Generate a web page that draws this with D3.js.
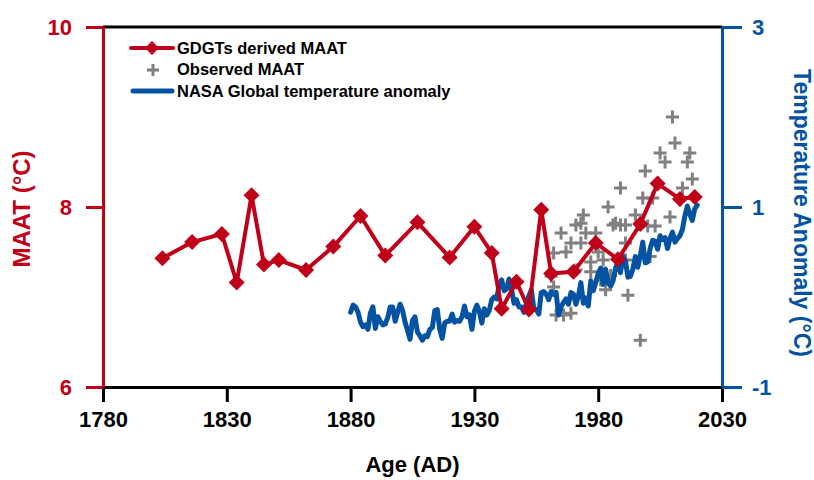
<!DOCTYPE html>
<html>
<head>
<meta charset="utf-8">
<script src="https://cdn.jsdelivr.net/npm/d3@7"></script>
<style>
  body { margin: 0; background: #fff; }
  text { font-family: "Liberation Sans", Arial, sans-serif; font-weight: bold; }
</style>
</head>
<body>
<div id="chart"></div>
<script>
// GDGTs derived MAAT (left axis)
var gdgtYear = [1804,1816,1828,1834,1840,1845,1851,1862,1873,1884,1894,1907,1920,1930,1937,1941,1947,1952,1957,1961,1970,1979,1988,1997,2004,2013,2019];
var gdgtMAAT = [7.43,7.61,7.70,7.16,8.13,7.36,7.41,7.30,7.56,7.90,7.46,7.83,7.44,7.78,7.49,6.87,7.17,6.86,7.97,7.26,7.28,7.60,7.42,7.81,8.26,8.09,8.11];

// observed MAAT (left axis)
var obsYear = [1961,1962,1962,1963,1965,1966,1967,1969,1969,1971,1971,1973,1973,1974,1975,1977,1977,1979,1980,1981,1982,1983,1984,1985,1986,1987,1989,1989,1991,1991,1991,1992,1995,1997,1998,1999,2000,2001,2002,2003,2005,2007,2009,2010,2011,2013,2014,2016,2017,2018];
var obsMAAT = [7.23,7.11,7.49,6.80,7.71,6.80,7.50,6.82,7.60,7.80,7.30,7.82,7.60,7.91,7.71,7.28,7.39,7.71,7.50,7.19,7.41,7.08,8.00,7.24,7.80,7.82,8.21,7.80,7.60,7.80,7.41,7.02,7.91,6.52,8.10,8.40,7.79,7.45,8.10,7.79,8.60,8.50,7.89,9.00,8.71,8.08,8.21,8.50,8.60,8.31];

// NASA global temperature anomaly (right axis), 1880-2020
var nasaStart = 1880;
var nasaAnom = [-0.17,-0.09,-0.11,-0.17,-0.28,-0.33,-0.31,-0.36,-0.18,-0.11,
  -0.35,-0.22,-0.27,-0.31,-0.30,-0.23,-0.11,-0.11,-0.27,-0.17,
  -0.08,-0.15,-0.28,-0.37,-0.47,-0.26,-0.22,-0.39,-0.43,-0.48,
  -0.43,-0.44,-0.36,-0.34,-0.15,-0.14,-0.36,-0.46,-0.29,-0.27,
  -0.27,-0.19,-0.28,-0.26,-0.27,-0.22,-0.10,-0.22,-0.20,-0.36,
  -0.16,-0.09,-0.16,-0.29,-0.13,-0.20,-0.15,-0.03,0.00,-0.02,
  0.13,0.19,0.07,0.09,0.20,0.09,-0.07,-0.03,-0.11,-0.11,
  -0.17,-0.07,0.01,0.08,-0.13,-0.14,-0.19,0.05,0.06,0.03,
  -0.03,0.06,0.03,0.05,-0.20,-0.11,-0.06,-0.02,-0.08,0.05,
  0.03,-0.08,0.01,0.16,-0.07,-0.01,-0.10,0.18,0.07,0.16,
  0.26,0.32,0.14,0.31,0.16,0.12,0.18,0.32,0.39,0.27,
  0.45,0.40,0.22,0.23,0.31,0.45,0.33,0.46,0.61,0.38,
  0.39,0.54,0.63,0.62,0.53,0.68,0.64,0.66,0.54,0.65,
  0.72,0.61,0.65,0.68,0.75,0.90,1.01,0.92,0.85,0.98,
  1.02];

var xTicks = [1780,1830,1880,1930,1980,2030];
var leftTicks = [6,8,10];
var rightTicks = [-1,1,3];

var red = "#C00018", blue = "#0452A2", grey = "#808080";

var margin = {top: 27, right: 92, bottom: 93, left: 103},
    width = 814 - margin.left - margin.right,
    height = 480 - margin.top - margin.bottom;

var svg = d3.select("#chart")
  .append("svg")
    .attr("width", 814)
    .attr("height", 480)
  .append("g")
    .attr("transform", "translate(" + margin.left + "," + margin.top + ")");

var x = d3.scaleLinear().domain([1780, 2030]).range([0, width]);
var yL = d3.scaleLinear().domain([6, 10]).range([height, 0]);
var yR = d3.scaleLinear().domain([-1, 3]).range([height, 0]);

// top frame line
svg.append("line")
  .attr("x1", 0).attr("x2", width).attr("y1", 0).attr("y2", 0)
  .attr("stroke", "#000").attr("stroke-width", 3);

// x axis
var xAxis = svg.append("g")
  .attr("transform", "translate(0," + height + ")")
  .call(d3.axisBottom(x).tickValues(xTicks).tickFormat(d3.format("d"))
    .tickSize(15).tickSizeOuter(0).tickPadding(9));
xAxis.select(".domain").attr("stroke", "#000").attr("stroke-width", 3);
xAxis.selectAll(".tick line").attr("stroke", "#000").attr("stroke-width", 3);
xAxis.selectAll("text").attr("font-size", 22).attr("fill", "#000");

// left axis
var lAxis = svg.append("g")
  .call(d3.axisLeft(yL).tickValues(leftTicks).tickFormat(d3.format("d"))
    .tickSize(17).tickSizeOuter(0).tickPadding(14));
lAxis.select(".domain").attr("stroke", red).attr("stroke-width", 3);
lAxis.selectAll(".tick line").attr("stroke", red).attr("stroke-width", 3);
lAxis.selectAll("text").attr("font-size", 22).attr("fill", red);

// right axis
var rAxis = svg.append("g")
  .attr("transform", "translate(" + width + ",0)")
  .call(d3.axisRight(yR).tickValues(rightTicks).tickFormat(function(d){ return String(d); })
    .tickSize(20).tickSizeOuter(0).tickPadding(10));
rAxis.select(".domain").attr("stroke", blue).attr("stroke-width", 3);
rAxis.selectAll(".tick line").attr("stroke", blue).attr("stroke-width", 3);
rAxis.selectAll("text").attr("font-size", 22).attr("fill", blue);

// axis titles
svg.append("text")
  .attr("x", width / 2).attr("y", height + 85)
  .attr("text-anchor", "middle").attr("font-size", 22).attr("fill", "#000")
  .text("Age (AD)");

svg.append("text")
  .attr("transform", "translate(" + (-73) + "," + (height / 2 + 2) + ") rotate(-90)")
  .attr("text-anchor", "middle").attr("font-size", 24).attr("fill", red)
  .text("MAAT (°C)");

svg.append("text")
  .attr("transform", "translate(" + (width + 72) + "," + (height / 2 + 6) + ") rotate(90)")
  .attr("text-anchor", "middle").attr("font-size", 23).attr("fill", blue)
  .text("Temperature Anomaly (°C)");

// plus marker path
function plusPath(s) {
  return "M" + (-s) + ",0H" + s + "M0," + (-s) + "V" + s;
}

// observed MAAT
var obs = obsYear.map(function(d, i){ return {year: d, value: obsMAAT[i]}; });
svg.append("g")
  .selectAll("path")
  .data(obs)
  .enter()
  .append("path")
    .attr("transform", function(d){ return "translate(" + x(d.year) + "," + yL(d.value) + ")"; })
    .attr("d", plusPath(6.5))
    .attr("stroke", grey).attr("stroke-width", 3).attr("fill", "none");

// NASA line
var nasa = nasaAnom.map(function(d, i){ return {year: nasaStart + i, value: d}; });
svg.append("path")
  .datum(nasa)
  .attr("fill", "none")
  .attr("stroke", blue)
  .attr("stroke-width", 5)
  .attr("stroke-linejoin", "round")
  .attr("stroke-linecap", "round")
  .attr("d", d3.line()
    .x(function(d){ return x(d.year); })
    .y(function(d){ return yR(d.value); }));

// GDGTs line + diamonds
var gdgt = gdgtYear.map(function(d, i){ return {year: d, value: gdgtMAAT[i]}; });
svg.append("path")
  .datum(gdgt)
  .attr("fill", "none")
  .attr("stroke", red)
  .attr("stroke-width", 4)
  .attr("stroke-linejoin", "round")
  .attr("d", d3.line()
    .x(function(d){ return x(d.year); })
    .y(function(d){ return yL(d.value); }));

var diamond = "M0,-8L8,0L0,8L-8,0Z";
svg.append("g")
  .selectAll("path")
  .data(gdgt)
  .enter()
  .append("path")
    .attr("transform", function(d){ return "translate(" + x(d.year) + "," + yL(d.value) + ")"; })
    .attr("d", diamond)
    .attr("fill", red);

// legend
var legend = svg.append("g").attr("transform", "translate(" + (-margin.left) + "," + (-margin.top) + ")");
legend.append("line")
  .attr("x1", 131).attr("x2", 173).attr("y1", 48).attr("y2", 48)
  .attr("stroke", red).attr("stroke-width", 4).attr("stroke-linecap", "round");
legend.append("path")
  .attr("transform", "translate(152,48)")
  .attr("d", "M0,-7L7,0L0,7L-7,0Z").attr("fill", red);
legend.append("path")
  .attr("transform", "translate(153,70)")
  .attr("d", plusPath(6))
  .attr("stroke", grey).attr("stroke-width", 3).attr("fill", "none");
legend.append("line")
  .attr("x1", 133).attr("x2", 172).attr("y1", 91).attr("y2", 91)
  .attr("stroke", blue).attr("stroke-width", 5).attr("stroke-linecap", "round");

var legendLabels = ["GDGTs derived MAAT", "Observed MAAT", "NASA Global temperature anomaly"];
legend.selectAll("text.leg")
  .data(legendLabels)
  .enter()
  .append("text")
    .attr("class", "leg")
    .attr("x", 177)
    .attr("y", function(d, i){ return 48 + i * 21.5; })
    .attr("dy", "0.35em")
    .attr("font-size", 16.5)
    .attr("fill", "#000")
    .text(function(d){ return d; });
</script>
</body>
</html>
